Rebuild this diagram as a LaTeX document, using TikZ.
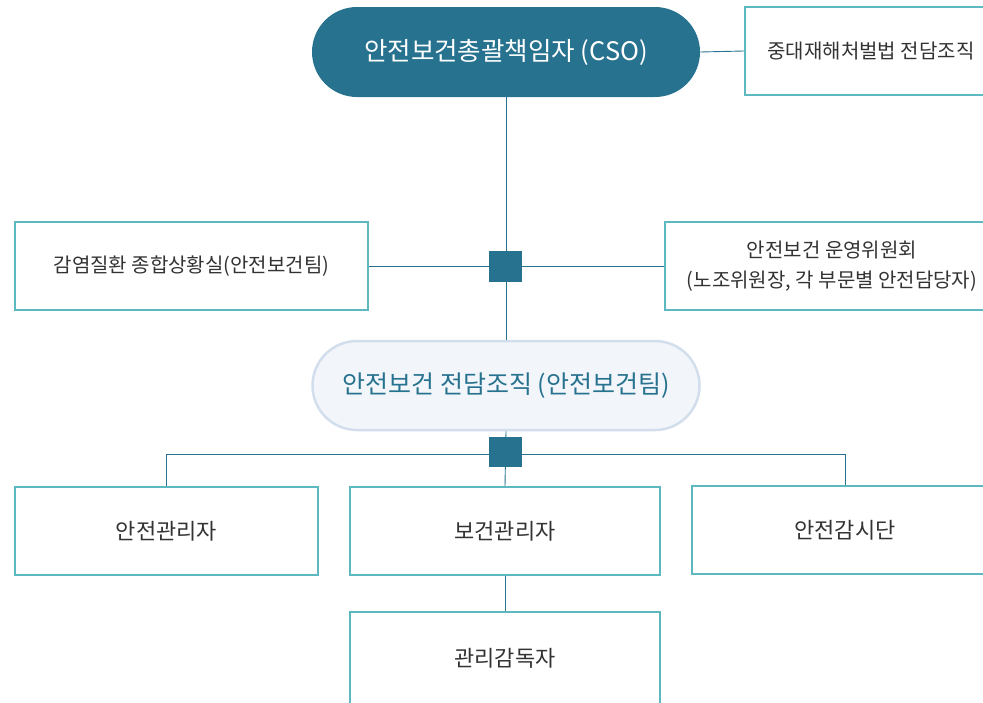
\documentclass[tikz,border=0pt]{standalone}
\usepackage{fontspec}
\setmainfont{Noto Sans CJK KR}
\usetikzlibrary{shapes.misc}

\definecolor{deepteal}{RGB}{39,114,143}
\definecolor{boxteal}{RGB}{94,184,192}
\definecolor{paleblue}{RGB}{242,246,250}
\definecolor{paleedge}{RGB}{210,222,236}
\definecolor{txtgray}{RGB}{51,51,51}

\tikzset{
  orgbox/.style={draw=boxteal, line width=2.5pt, fill=white, rectangle, inner sep=0pt,
    minimum height=88pt, align=center, text=txtgray, font=\fontsize{20}{30}\selectfont},
  bigbox/.style={orgbox, font=\fontsize{22}{30}\selectfont},
  pillmain/.style={rounded rectangle, fill=deepteal, text=white, inner sep=0pt,
    minimum width=388pt, minimum height=90pt, font=\fontsize{25.5}{30}\selectfont},
  pillsub/.style={rounded rectangle, draw=paleedge, line width=2.5pt, fill=paleblue, text=deepteal,
    inner sep=0pt, minimum width=387pt, minimum height=89pt, font=\fontsize{25}{30}\selectfont},
  hubsq/.style={rectangle, fill=deepteal, inner sep=0pt, minimum width=33pt, minimum height=31pt},
  link/.style={draw=deepteal, line width=0.9pt}
}

\begin{document}
\begin{tikzpicture}[x=1pt,y=-1pt]
\useasboundingbox (0,0) rectangle (983,702);
\clip (0,0) rectangle (983,702);

% top: chief officer and the legal team
\node[pillmain] (cso) at (506,52) {안전보건총괄책임자 (CSO)};
\node[orgbox, minimum width=252pt] (sev) at (871,51) {중대재해처벌법 전담조직};

% middle row
\node[orgbox, minimum width=353pt] (inf) at (191.5,266) {감염질환 종합상황실(안전보건팀)};
\node[orgbox, minimum width=334pt] (comm) at (832,266) {안전보건 운영위원회\\(노조위원장, 각 부문별 안전담당자)};
\node[pillsub] (team) at (506,385.5) {안전보건 전담조직 (안전보건팀)};

% lower rows
\node[bigbox, minimum width=303pt] (safe) at (166.5,531) {안전관리자};
\node[bigbox, minimum width=310pt] (health) at (505,531) {보건관리자};
\node[bigbox, minimum width=306pt] (watch) at (845,530) {안전감시단};
\node[bigbox, minimum width=310pt, minimum height=92pt] (super) at (505,658) {관리감독자};

% connectors
\draw[link] (cso.east) -- (sev.west);
\draw[link] (cso.south) -- (team.north);
\draw[link] (inf.east) -- (comm.west);
\coordinate (split) at (505,454);
\draw[link] (team.south) -- (health.north);
\draw[link] (split) -| (safe.north);
\draw[link] (split) -| (watch.north);
\draw[link] (health.south) -- (super.north);

% junction squares
\node[hubsq] (hub1) at (505,266.5) {};
\node[hubsq, minimum height=30pt] (hub2) at (505,452) {};
\end{tikzpicture}
\end{document}
